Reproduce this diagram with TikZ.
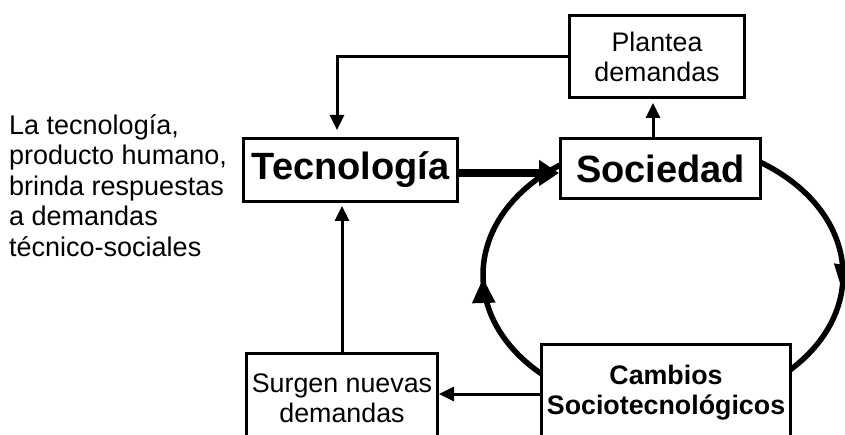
\documentclass[tikz,border=0pt]{standalone}
\usepackage{fontspec}
\setmainfont{Liberation Sans}
\usetikzlibrary{arrows.meta,positioning,calc,decorations.markings}

\begin{document}
\begin{tikzpicture}[x=1pt,y=1pt,every node/.style={font=\fontsize{26.8}{30}\selectfont}]
\tikzset{box/.style={draw,line width=3pt,fill=white,align=center,inner sep=0pt},bigbox/.style={box,font=\fontsize{38}{42}\selectfont\bfseries},link/.style={line width=3pt,-{Triangle[width=14pt,length=15pt]}},biglink/.style={line width=8pt,-{Triangle[width=25pt,length=20pt]}},cycleline/.style={line width=5.5pt,postaction={decorate},decoration={markings,mark=at position 0.503 with {\arrowreversed{Triangle[width=22pt,length=25pt]}},mark=at position 0.985 with {\arrowreversed{Triangle[width=22pt,length=25pt]}}}}}
\useasboundingbox (0,0) rectangle (845,434);
\coordinate (ciclo) at (663,159);
\draw[cycleline] (ciclo) ellipse [x radius=180, y radius=134];
\node[anchor=north west,align=left,inner sep=0pt,font=\fontsize{27}{30.5}\selectfont] (nota) at (9,320) {La tecnología,\\producto humano,\\brinda respuestas\\a demandas\\técnico-sociales};
\node[bigbox,minimum width=214pt,minimum height=63pt] (tec) at (350.5,264) {Tecnología};
\node[bigbox,minimum width=200pt,minimum height=60pt] (soc) at (660.5,265.5) {Sociedad};
\node[box,minimum width=175pt,minimum height=82pt] (plan) at (657,377.5) {Plantea\\demandas};
\node[box,minimum width=191pt,minimum height=90pt] (surg) at (342,36) {Surgen nuevas\\demandas};
\node[box,minimum width=249pt,minimum height=98pt,font=\fontsize{26.8}{30}\selectfont\bfseries] (camb) at (666,41) {Cambios\\Sociotecnológicos};
\draw[link,shorten >=7pt] (plan.west) -| ([xshift=-13.5pt]tec.north);
\draw[link,shorten >=4pt] ([xshift=-7.5pt]soc.north) -- ([xshift=-7.5pt]soc.north |- plan.south);
\draw[biglink] ([yshift=-3pt]tec.east) -- ([yshift=-3pt]tec.east -| soc.west);
\draw[link,shorten >=3pt] (surg.north) -- (surg.north |- tec.south);
\draw[link] ([yshift=-1pt]camb.west) -- ([yshift=-1pt]camb.west -| surg.east);
\end{tikzpicture}
\end{document}
